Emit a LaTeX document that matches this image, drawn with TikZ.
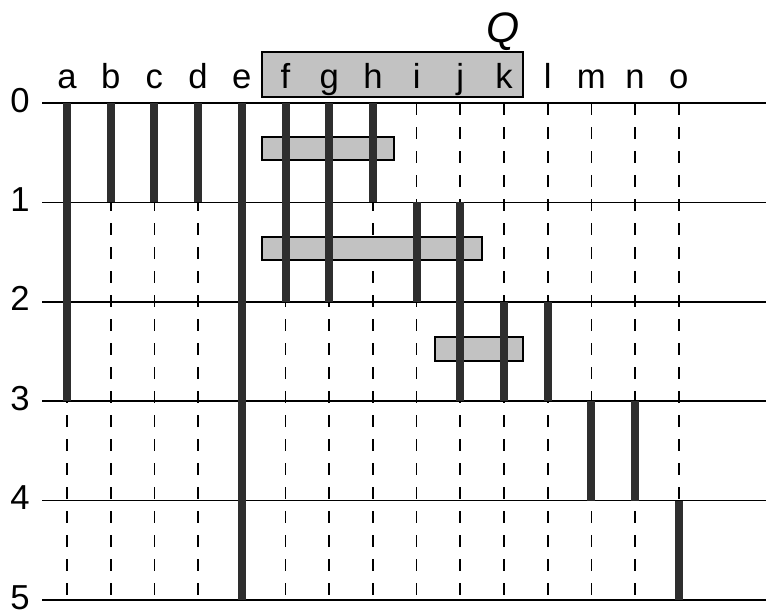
\documentclass[tikz,border=0pt]{standalone}
\usepackage{fontspec}
\setmainfont{Liberation Sans}
\usetikzlibrary{positioning}

\begin{document}
\begin{tikzpicture}[x=0.75pt, y=-0.75pt,
  lbl/.style={font=\fontsize{26}{30}\selectfont, inner sep=0pt, anchor=base},
  rule/.style={line width=1.2pt},
  guide/.style={line width=1.3pt, dash pattern=on 9pt off 9pt},
  shade/.style={fill=black!24, draw=black, line width=0.9pt},
  slot/.style={line width=6pt, draw=black!82, line cap=butt}]
  \useasboundingbox (0,0) rectangle (770,615);
  % column k at x = 67 + k*\dx, row r at y = 103 + r*\dy
  \def\dx{43.7}
  \def\dy{99.4}
  % Q window over the column labels f..k
  \draw[shade] (262,52) rectangle (523,97);
  \node[font=\itshape\fontsize{32}{34}\selectfont, inner sep=0pt, anchor=base] (q) at (503,42) {Q};
  % row lines and row labels
  \foreach \r in {0,...,5} {
    \node[lbl] (r\r) at (20,{103+\r*\dy+9}) {\r};
    \draw[rule] (42,{103+\r*\dy}) -- (766,{103+\r*\dy});
  }
  % column labels and dashed guides
  \foreach \c [count=\k from 0] in {a,b,c,d,e,f,g,h,i,j,k,l,m,n,o} {
    \node[lbl] (c\c) at ({67+\k*\dx},88) {\c};
    \draw[guide] ({67+\k*\dx},103) -- ({67+\k*\dx},{103+5*\dy});
  }
  % gray bars
  \draw[shade] (262,137) rectangle (394,160);
  \draw[shade] (262,237) rectangle (482,260);
  \draw[shade] (435,337) rectangle (523,361);
  % thick bars: column / from row / to row
  \foreach \c/\a/\b [count=\k from 0] in {a/0/3,b/0/1,c/0/1,d/0/1,e/0/5,f/0/2,g/0/2,
      h/0/1,i/1/2,j/1/3,k/2/3,l/2/3,m/3/4,n/3/4,o/4/5}
    \draw[slot] ({67+\k*\dx},{103+\a*\dy}) -- ({67+\k*\dx},{103+\b*\dy});
\end{tikzpicture}
\end{document}
